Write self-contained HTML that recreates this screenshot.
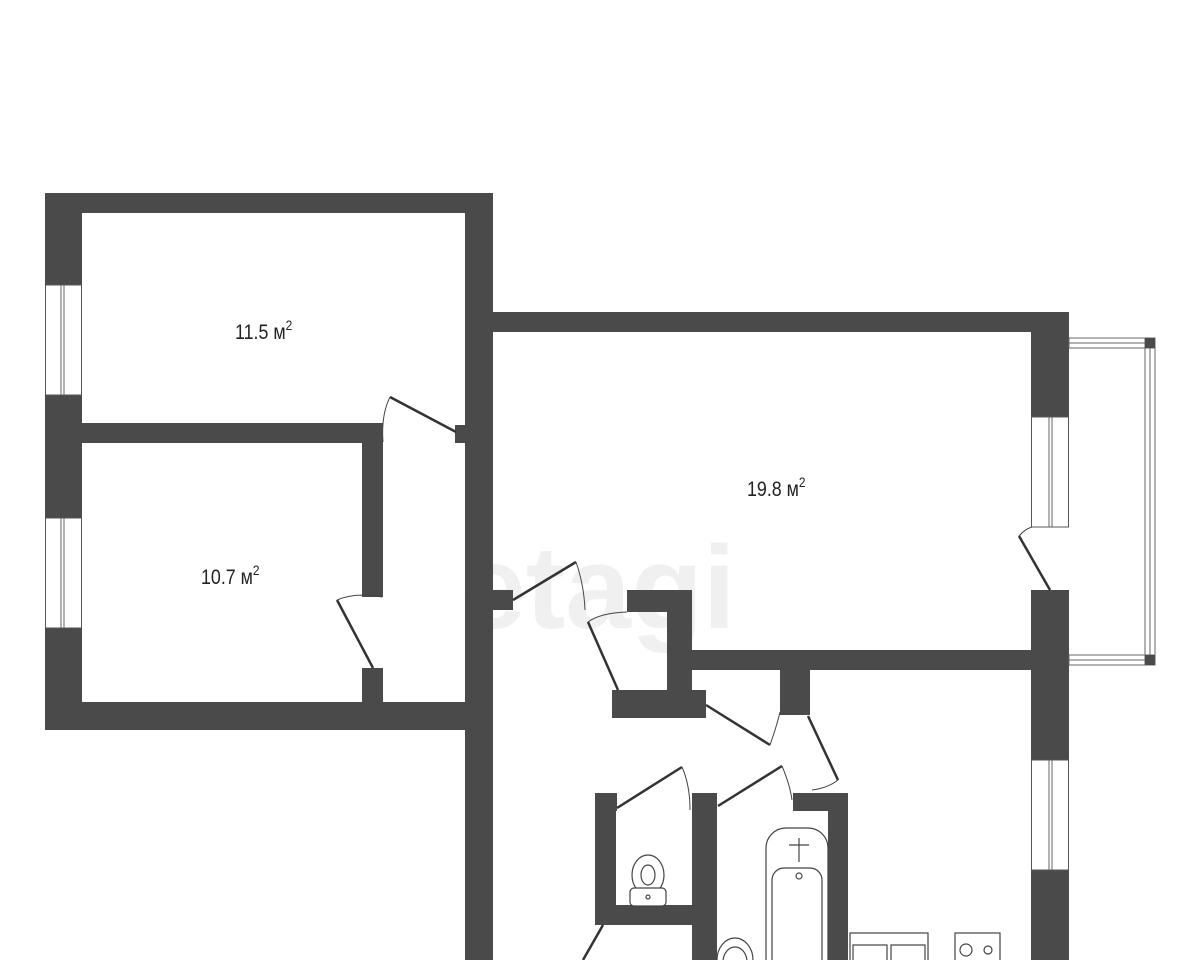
<!DOCTYPE html>
<html><head><meta charset="utf-8"><style>
html,body{margin:0;padding:0;background:#fff;}
svg{display:block}
</style></head><body>
<svg width="1200" height="960" viewBox="0 0 1200 960" xmlns="http://www.w3.org/2000/svg">
<text x="598" y="628" font-family="Liberation Sans, sans-serif" font-weight="bold" font-size="118" fill="#f0f0f0" text-anchor="middle">etagi</text>
<g fill="#4a4a4a">
<rect x="45" y="193" width="37" height="537"/>
<rect x="45" y="193" width="448" height="20"/>
<rect x="465" y="193" width="28" height="767"/>
<rect x="45" y="702" width="420" height="28"/>
<rect x="82" y="423" width="301" height="20"/>
<rect x="362" y="423" width="21" height="174"/>
<rect x="362" y="668" width="21" height="34"/>
<rect x="455" y="425" width="10" height="18"/>
<rect x="493" y="312" width="576" height="20"/>
<rect x="1031" y="312" width="38" height="105"/>
<rect x="1031" y="590" width="38" height="170"/>
<rect x="1031" y="870" width="38" height="90"/>
<rect x="690" y="650" width="342" height="20"/>
<rect x="493" y="590" width="20" height="20"/>
<rect x="667" y="590" width="25" height="128"/>
<rect x="627" y="590" width="65" height="22"/>
<rect x="612" y="690" width="80" height="28"/>
<rect x="692" y="690" width="14" height="28"/>
<rect x="780" y="670" width="30" height="45"/>
<rect x="595" y="793" width="21" height="132"/>
<rect x="595" y="793" width="22" height="18"/>
<rect x="692" y="793" width="25" height="167"/>
<rect x="595" y="905" width="110" height="20"/>
<rect x="828" y="793" width="20" height="167"/>
<rect x="793" y="793" width="55" height="18"/>
</g>
<g fill="#fff" stroke="#555" stroke-width="1">
<rect x="45.5" y="285" width="36" height="110"/>
<rect x="45.5" y="518" width="36" height="110"/>
<rect x="1031.5" y="417" width="37" height="110"/>
<rect x="1031.5" y="760" width="37" height="110"/>
</g>
<g stroke="#666" stroke-width="1" fill="none">
<line x1="61" y1="285" x2="61" y2="395"/><line x1="64" y1="285" x2="64" y2="395"/>
<line x1="61" y1="518" x2="61" y2="628"/><line x1="64" y1="518" x2="64" y2="628"/>
<line x1="1049" y1="417" x2="1049" y2="527"/><line x1="1052" y1="417" x2="1052" y2="527"/>
<line x1="1049" y1="760" x2="1049" y2="870"/><line x1="1052" y1="760" x2="1052" y2="870"/>
<rect x="1069" y="338" width="86" height="10"/>
<rect x="1145" y="338" width="10" height="327"/>
<rect x="1069" y="655" width="86" height="10"/>
<line x1="1069" y1="343" x2="1150" y2="343"/>
<line x1="1150" y1="343" x2="1150" y2="660"/>
<line x1="1069" y1="660" x2="1150" y2="660"/>
</g>
<rect x="1145" y="338" width="10" height="10" fill="#4a4a4a"/>
<rect x="1145" y="655" width="10" height="10" fill="#4a4a4a"/>
<g stroke="#333" stroke-width="2.5" fill="none">
<line x1="456" y1="432" x2="390" y2="397"/>
<line x1="373" y1="668" x2="337" y2="600"/>
<line x1="1050" y1="590" x2="1019" y2="536"/>
<line x1="513" y1="600" x2="576" y2="562"/>
<line x1="618" y1="690" x2="588" y2="622"/>
<line x1="706" y1="705" x2="770" y2="745"/>
<line x1="808" y1="716" x2="838" y2="780"/>
<line x1="617" y1="808" x2="682" y2="767"/>
<line x1="718" y1="806" x2="782" y2="766"/>
<line x1="603" y1="925" x2="583" y2="960"/>
</g>
<g stroke="#444" stroke-width="1" fill="none">
<path d="M390 397 Q381 415 383 442"/>
<path d="M337 600 Q355 592 382 597"/>
<path d="M1019 536 Q1025 529 1032 527"/>
<path d="M576 562 Q584 585 585 610"/>
<path d="M588 622 Q600 613 627 612"/>
<path d="M770 745 Q777 725 780 712"/>
<path d="M838 780 Q828 788 812 790"/>
<path d="M682 767 Q690 785 690 810"/>
<path d="M782 766 Q790 785 792 800"/>
</g>
<g stroke="#444" stroke-width="1.2" fill="#fff">
<rect x="766" y="828" width="62" height="150" rx="20"/>
<rect x="772" y="868" width="50" height="110" rx="12"/>
<circle cx="799" cy="876" r="3"/>
<line x1="789" y1="845" x2="809" y2="845"/>
<line x1="799" y1="838" x2="799" y2="862"/>
<ellipse cx="648" cy="875" rx="16" ry="20"/>
<ellipse cx="648" cy="875" rx="7" ry="10"/>
<rect x="630" y="888" width="36" height="18" rx="4"/>
<circle cx="648" cy="897" r="2"/>
<ellipse cx="735" cy="960" rx="18" ry="22"/>
<ellipse cx="735" cy="962" rx="12" ry="15"/>
<rect x="850" y="933" width="78" height="30"/>
<rect x="853" y="945" width="34" height="20"/>
<rect x="891" y="945" width="34" height="20"/>
<rect x="955" y="933" width="45" height="30"/>
<circle cx="966" cy="950" r="6"/>
<circle cx="988" cy="950" r="4"/>
</g>
<g font-family="Liberation Sans, sans-serif" font-size="21" fill="#222">
<text x="235" y="339" transform="scale(0.85 1)" transform-origin="235 339">11.5 м<tspan font-size="14" dy="-9">2</tspan></text>
<text x="201" y="584" transform="scale(0.85 1)" transform-origin="201 584">10.7 м<tspan font-size="14" dy="-9">2</tspan></text>
<text x="747" y="496" transform="scale(0.85 1)" transform-origin="747 496">19.8 м<tspan font-size="14" dy="-9">2</tspan></text>
</g>
</svg>
</body></html>
